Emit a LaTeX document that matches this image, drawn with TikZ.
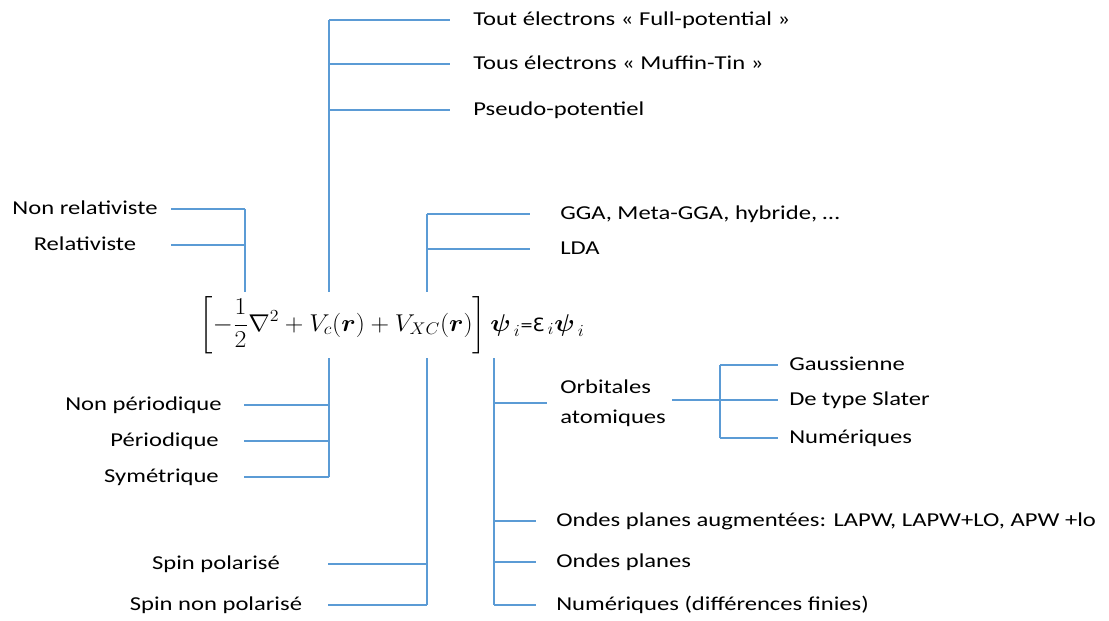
\documentclass[tikz,border=0pt]{standalone}
\usepackage{amsmath}
\usepackage{amssymb}
\usepackage{graphicx}
\usepackage{fontspec}
\setmainfont{Carlito}[FakeStretch=1.25]
\newfontfamily\epsfont{DejaVu Sans}
\usepackage{tikz}
\usetikzlibrary{positioning}
\definecolor{branchblue}{RGB}{91,155,213}
\newcommand{\smalltxt}[1]{\text{\fontsize{13}{15}\selectfont #1}}

\begin{document}
\begin{tikzpicture}[x=0.025cm,y=-0.025cm]
\tikzstyle{leaf node}=[inner sep=0,text height=10.5pt,text depth=3pt,font=\fontsize{14}{17}\selectfont]
\tikzstyle{right leaf}=[leaf node,anchor=west]
\tikzstyle{left leaf}=[leaf node,anchor=east]
\tikzset{
  two line/.style = {inner sep=0,anchor=west,align=left,font=\fontsize{14}{21}\selectfont},
  eq node/.style  = {inner sep=3pt,font=\fontsize{17}{20}\selectfont},
  branch/.style   = {every edge/.style={draw=branchblue,line width=0.85pt}}
}
\useasboundingbox (0,0) rectangle (1109,620);

    \node[eq node] (eq) at (392,325) {\scalebox{1.06}[1]{$\displaystyle\left[-\frac{1}{2}\nabla^2+V_c(\boldsymbol{r})+V_{XC}(\boldsymbol{r})\right]\boldsymbol{\psi}_{\,i}\smalltxt{=}\smalltxt{\epsfont Ɛ}_{\,i}\boldsymbol{\psi}_{\,i}$}};
    %%%%%%%%%%%%%%%%%%%%%%%%%%%%%%%%%%%
    \node[right leaf] (fp)    at (473,20)  {Tout électrons « Full-potential »};
    \node[right leaf] (mt)    at (473,64)  {Tous électrons « Muffin-Tin »};
    \node[right leaf] (pp)    at (473,110) {Pseudo-potentiel};
    \node[leaf node]  (nrel)  at (85,209)  {Non relativiste};
    \node[leaf node]  (rel)   at (85,245)  {Relativiste};
    \node[right leaf] (gga)   at (560,214) {GGA, Meta-GGA, hybride, …};
    \node[right leaf] (lda)   at (560,249) {LDA};
    %%%%%%%%%%%%%%%%%%%%%%%%%%%%%%%%%%%
    \node[left leaf]  (nper)  at (222,405) {Non périodique};
    \node[left leaf]  (per)   at (219,441) {Périodique};
    \node[left leaf]  (sym)   at (219,477) {Symétrique};
    \node[leaf node]  (spol)  at (216,564) {Spin polarisé};
    \node[leaf node]  (snpol) at (216,605) {Spin non polarisé};
    \node[two line]   (orb)   at (560,403) {Orbitales\\atomiques};
    \node[right leaf] (gau)   at (789,365) {Gaussienne};
    \node[right leaf] (sla)   at (789,400) {De type Slater};
    \node[right leaf] (numa)  at (789,438) {Numériques};
    \node[right leaf] (lapw)  at (556,521) {Ondes planes augmentées: LAPW, LAPW+LO, APW +lo};
    \node[right leaf] (pw)    at (556,562) {Ondes planes};
    \node[right leaf] (numb)  at (556,605) {Numériques (différences finies)};
    %%%%%%%%%%%%%%%%%%%%%%%%%%%%%%%%%%%
    \coordinate (ax) at (329,0);   \coordinate (aend) at (450,0);
    \coordinate (bx) at (245,0);   \coordinate (bend) at (171,0);
    \coordinate (cx) at (427,0);   \coordinate (cend) at (530,0);
    \coordinate (dx) at (329,0);   \coordinate (dend) at (244,0);
    \coordinate (ex) at (427,0);   \coordinate (eend) at (328,0);
    \coordinate (fx) at (494,0);   \coordinate (fend) at (547,0);
    \coordinate (fend2) at (536,0);
    \coordinate (gx) at (720,0);   \coordinate (gstart) at (672,0);
    \coordinate (gend) at (778,0);
    %%%%%%%%%%%%%%%%%%%%%%%%%%%%%%%%%%%
    \path[branch]
         (eq.north -| ax) edge (fp -| ax)
         (fp -| ax) edge (fp -| aend)
         (mt -| ax) edge (mt -| aend)
         (pp -| ax) edge (pp -| aend)

         (eq.north -| bx) edge (nrel -| bx)
         (nrel -| bx) edge (nrel -| bend)
         (rel -| bx) edge (rel -| bend)

         (eq.north -| cx) edge (gga -| cx)
         (gga -| cx) edge (gga -| cend)
         (lda -| cx) edge (lda -| cend)
         %%%%%%%%%%%%%%%%%
         (eq.south -| dx) edge (sym -| dx)
         (nper -| dx) edge (nper -| dend)
         (per -| dx) edge (per -| dend)
         (sym -| dx) edge (sym -| dend)

         (eq.south -| ex) edge (snpol -| ex)
         (spol -| ex) edge (spol -| eend)
         (snpol -| ex) edge (snpol -| eend)

         (eq.south -| fx) edge (numb -| fx)
         (orb -| fx) edge (orb -| fend)
         (lapw -| fx) edge (lapw -| fend2)
         (pw -| fx) edge (pw -| fend2)
         (numb -| fx) edge (numb -| fend2)

         (sla -| gstart) edge (sla -| gend)
         (gau -| gx) edge (numa -| gx)
         (gau -| gx) edge (gau -| gend)
         (numa -| gx) edge (numa -| gend)
;
\end{tikzpicture}
\end{document}
